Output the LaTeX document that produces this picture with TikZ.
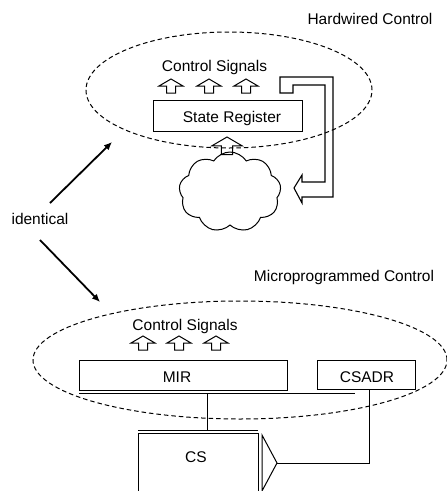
\documentclass[tikz,border=0pt]{standalone}
\usepackage{fontspec}
\setmainfont{Liberation Sans}
\usetikzlibrary{shapes.symbols,arrows.meta}

\tikzset{
  thinline/.style={line width=1pt, line join=miter},
  txt/.style={inner sep=0pt, font=\fontsize{15.5}{18}\selectfont, text height=11.1pt, text depth=0pt},
  regbox/.style={draw, thinline, inner sep=0pt},
  zone/.style={draw, dash pattern=on 4.5pt off 3pt, line width=1pt},
  bigarrow/.style={line width=1.8pt, -{Latex[length=8pt,width=7pt]}},
  hollowup/.pic={\draw[thinline] (0,0) -- (12,7) -- (4.5,7) -- (4.5,14) -- (-4.5,14) -- (-4.5,7) -- (-12,7) -- cycle;}
}

\begin{document}
\begin{tikzpicture}[x=1pt, y=-1pt]
\useasboundingbox[fill=white] (0,0) rectangle (447,491);

% ---------- hardwired control ----------
\node[txt] (hwtitle) at (370,19) {Hardwired Control};
\draw[zone] (229,90) ellipse [x radius=143pt, y radius=58pt];
\node[txt] (hwsig) at (214.5,66) {Control Signals};
\pic at (171,79) {hollowup};
\pic at (209,79) {hollowup};
\pic at (246,79) {hollowup};
\node[regbox, minimum width=149pt, minimum height=31pt] (statereg) at (227.5,115.5) {};
\node[txt] (statetxt) at (232,117) {State Register};
\node[cloud, draw, thinline, cloud puffs=9, cloud puff arc=115,
      minimum width=102pt, minimum height=80pt, inner sep=0pt] (logic) at (230,192) {};
\pic[scale=1.25] at (227,137) {hollowup};
% feedback from the state register back into the logic
\draw[line width=1.1pt, line join=miter]
  (280,93) -- (280,77) -- (333,77) -- (333,197) -- (302,197) -- (302,203)
  -- (294,188) -- (302,175) -- (302,182) -- (325,182) -- (325,85)
  -- (293,85) -- (293,93) -- cycle;

% ---------- "identical" ----------
\node[txt] (ident) at (40,219) {identical};
\coordinate (upTail) at (50,203);
\coordinate (upTip) at (112,142);
\coordinate (downTail) at (40,240);
\coordinate (downTip) at (100,302);
\draw[bigarrow] (upTail) -- (upTip);
\draw[bigarrow] (downTail) -- (downTip);

% ---------- microprogrammed control ----------
\node[txt] (mptitle) at (344,276) {Microprogrammed Control};
\draw[zone] (240,360) ellipse [x radius=207pt, y radius=59pt];
\node[txt] (mpsig) at (185,325) {Control Signals};
\pic at (143,336) {hollowup};
\pic at (179,336) {hollowup};
\pic at (216,336) {hollowup};
\node[regbox, minimum width=208pt, minimum height=30pt] (mir) at (183,375) {};
\node[txt] (mirtxt) at (177,377) {MIR};
\node[regbox, minimum width=98pt, minimum height=29pt] (csadr) at (366,374.5) {};
\node[txt] (csadrtxt) at (367,377) {CSADR};

% control store, open at the bottom edge
\coordinate (busL) at (79,393);
\coordinate (busR) at (355,393);
\coordinate (busTap) at (207,393);
\coordinate (csTop) at (207,430);
\draw[thinline] (busL) -- (busR);
\draw[thinline] (busTap) -- (csTop);
\draw[thinline] (138,430) -- (258,430);
\draw[thinline] (138,491) -- (138,433) -- (258,433) -- (258,491);
\node[txt] (cs) at (196,457) {CS};
% address input
\coordinate (addrTip) at (277,463);
\draw[thinline] (262,491) -- (262,435) -- (addrTip) -- (262,491);
\coordinate (addrCorner) at (369,463);
\draw[thinline] (csadr.south -| addrCorner) -- (addrCorner) -- (addrTip);
\end{tikzpicture}
\end{document}
